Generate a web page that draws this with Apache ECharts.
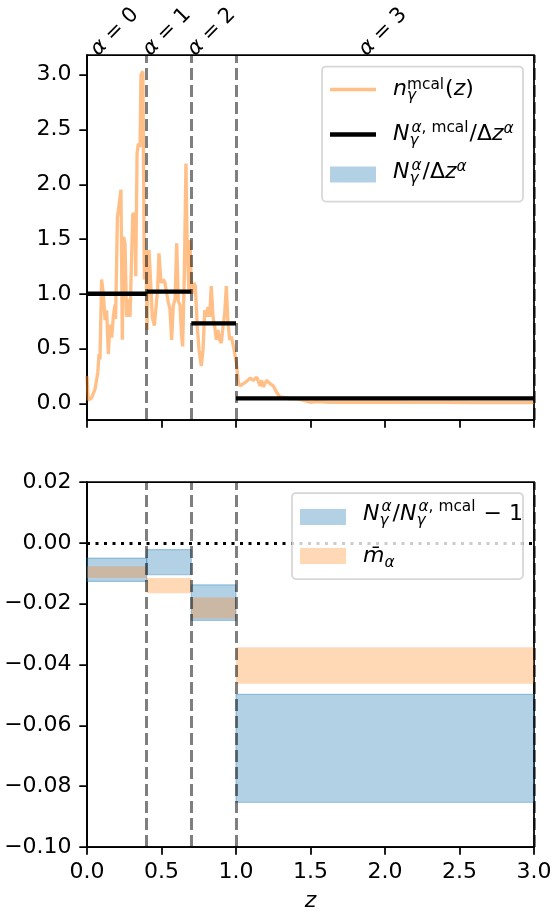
<!DOCTYPE html>
<html>
<head>
<meta charset="utf-8">
<script src="https://cdn.jsdelivr.net/npm/echarts@6/dist/echarts.min.js"></script>
<style>
html, body { margin: 0; padding: 0; background: #fff; }
#chart { width: 552px; height: 915px; }
</style>
</head>
<body>
<div id="chart"></div>
<script>
// n_gamma^mcal(z)
var zGrid = [0.000, 0.008, 0.031, 0.054, 0.072, 0.081, 0.087, 0.098, 0.110, 0.121,
    0.132, 0.143, 0.154, 0.166, 0.177, 0.188, 0.192, 0.204, 0.217, 0.228,
    0.237, 0.246, 0.255, 0.266, 0.277, 0.289, 0.307, 0.322, 0.327, 0.336,
    0.344, 0.356, 0.362, 0.375, 0.385, 0.396, 0.403, 0.416, 0.430, 0.438,
    0.452, 0.463, 0.474, 0.483, 0.497, 0.512, 0.523, 0.535, 0.546, 0.557,
    0.568, 0.579, 0.591, 0.602, 0.613, 0.624, 0.635, 0.642, 0.653, 0.664,
    0.673, 0.685, 0.691, 0.700, 0.705, 0.718, 0.727, 0.740, 0.752, 0.767,
    0.779, 0.790, 0.801, 0.812, 0.823, 0.834, 0.846, 0.857, 0.868, 0.879,
    0.890, 0.901, 0.913, 0.924, 0.935, 0.946, 0.958, 0.969, 0.987, 1.002,
    1.016, 1.027, 1.049, 1.072, 1.094, 1.117, 1.139, 1.161, 1.172, 1.183,
    1.206, 1.228, 1.250, 1.273, 1.295, 1.340, 1.362, 1.407, 1.452, 1.497,
    1.540, 1.630, 1.720, 1.850, 2.000, 2.200, 2.400, 2.600, 2.800, 3.000];
var nMcal = [0.25, 0.03, 0.05, 0.13, 0.28, 0.45, 0.40, 1.13, 1.00, 0.76,
    0.85, 0.45, 0.72, 0.60, 0.80, 0.90, 0.77, 1.70, 1.83, 1.95,
    0.58, 1.52, 1.46, 0.79, 0.95, 0.79, 1.73, 1.73, 1.16, 2.28,
    2.37, 2.34, 3.00, 3.03, 1.13, 1.40, 0.67, 1.40, 1.04, 0.79,
    0.71, 0.71, 1.04, 1.37, 1.10, 1.13, 1.10, 1.10, 0.92, 0.86,
    0.58, 0.89, 0.95, 1.46, 0.93, 0.90, 0.61, 0.52, 1.16, 2.19,
    1.40, 1.00, 1.49, 1.10, 1.00, 1.10, 1.07, 0.70, 0.49, 0.34,
    0.49, 0.85, 0.79, 0.88, 0.79, 1.07, 0.79, 0.70, 0.58, 0.67,
    0.58, 0.55, 0.70, 0.82, 1.07, 0.73, 0.58, 0.61, 0.49, 0.37,
    0.19, 0.16, 0.18, 0.20, 0.23, 0.21, 0.24, 0.16, 0.21, 0.15,
    0.21, 0.18, 0.16, 0.10, 0.06, 0.05, 0.04, 0.04, 0.03, 0.01,
    0.015, 0.01, 0.012, 0.01, 0.01, 0.008, 0.008, 0.007, 0.006, 0.006];

// tomographic bins
var binEdges = [0, 0.4, 0.7, 1.0, 3.0];
var binNames = ['0', '1', '2', '3'];
var nBinMcal = [1.00, 1.02, 0.73, 0.045];     // N^{a,mcal}/dz^a
var nBinLo = [0.986, 1.008, 0.714, 0.041];    // N^a/dz^a band
var nBinHi = [0.995, 1.018, 0.722, 0.044];

// lower panel bands
var ratioLo = [-0.0127, -0.0105, -0.0255, -0.0853];
var ratioHi = [-0.0050, -0.0022, -0.0138, -0.0498];
var mLo = [-0.0116, -0.0166, -0.0249, -0.0463];
var mHi = [-0.0077, -0.0116, -0.0180, -0.0343];

var xTicks = [0, 0.5, 1, 1.5, 2, 2.5, 3];
var topYTicks = [0, 0.5, 1, 1.5, 2, 2.5, 3];
var botYTicks = [0.02, 0, -0.02, -0.04, -0.06, -0.08, -0.1];

var FONT = '"DejaVu Sans"';
var LW = 1.75;
var BLUE_FILL = 'rgba(31,119,180,0.34)';
var ORANGE_FILL = 'rgba(255,127,14,0.3)';
var ORANGE_LINE = 'rgba(255,127,14,0.5)';
var DASH = { color: 'rgba(0,0,0,0.5)', width: 3, type: [12, 5] };

var chart = echarts.init(document.getElementById('chart'), null, { renderer: 'canvas' });

function bandData(lo, hi) {
    return lo.map(function (v, i) { return [binEdges[i], binEdges[i + 1], v, hi[i]]; });
}
function stepData() {
    var d = [];
    nBinMcal.forEach(function (v, i) {
        d.push([binEdges[i], v], [binEdges[i + 1], v], [binEdges[i + 1], '-']);
    });
    return d;
}
function renderBand(params, api) {
    var a = api.coord([api.value(0), api.value(3)]);
    var b = api.coord([api.value(1), api.value(2)]);
    var cs = params.coordSys;
    var shape = echarts.graphic.clipRectByRect(
        { x: a[0], y: a[1], width: b[0] - a[0], height: b[1] - a[1] },
        { x: cs.x, y: cs.y, width: cs.width, height: cs.height });
    return shape && { type: 'rect', shape: shape, style: api.style() };
}
function xAxisOpt(grid, labels) {
    return {
        type: 'value', gridIndex: grid, min: 0, max: 3,
        axisLine: { onZero: false, lineStyle: { color: '#000', width: LW } },
        axisTick: { show: true, length: 7.7, customValues: xTicks, lineStyle: { color: '#000', width: LW } },
        axisLabel: {
            show: labels, customValues: xTicks, margin: 14, color: '#000',
            fontSize: 22, fontFamily: FONT,
            formatter: function (v) { return v.toFixed(1); }
        },
        splitLine: { show: false },
        name: labels ? 'z' : '', nameLocation: 'middle', nameGap: 43,
        nameTextStyle: { fontSize: 22, fontStyle: 'italic', fontFamily: FONT, color: '#000' }
    };
}
function yAxisOpt(grid, min, max, ticks, fmt) {
    return {
        type: 'value', gridIndex: grid, min: min, max: max,
        axisLine: { show: true, onZero: false, lineStyle: { color: '#000', width: LW } },
        axisTick: { show: true, length: 7.7, customValues: ticks, lineStyle: { color: '#000', width: LW } },
        axisLabel: { customValues: ticks, margin: 15.4, color: '#000', fontSize: 22, fontFamily: FONT, formatter: fmt },
        splitLine: { show: false }
    };
}

var option = {
    animation: false,
    backgroundColor: '#fff',
    grid: [
        { left: 87, top: 55, width: 447, height: 365, show: true, borderColor: '#000', borderWidth: LW,
          containLabel: false, outerBoundsMode: 'none' },
        { left: 87, top: 482, width: 447, height: 365, show: true, borderColor: '#000', borderWidth: LW,
          containLabel: false, outerBoundsMode: 'none' }
    ],
    xAxis: [xAxisOpt(0, false), xAxisOpt(1, true)],
    yAxis: [
        yAxisOpt(0, -0.152, 3.18, topYTicks, function (v) { return v.toFixed(1); }),
        yAxisOpt(1, -0.1, 0.02, botYTicks, function (v) {
            return (v < -1e-9 ? '\u2212' : '') + Math.abs(v).toFixed(2);
        })
    ],
    series: [
        {
            name: 'nmcal', type: 'line', xAxisIndex: 0, yAxisIndex: 0, z: 2,
            showSymbol: false, symbol: 'none',
            lineStyle: { color: ORANGE_LINE, width: 3.3 },
            data: zGrid.map(function (z, i) { return [z, nMcal[i]]; })
        },
        {
            name: 'Nbin', type: 'custom', xAxisIndex: 0, yAxisIndex: 0, z: 3,
            renderItem: renderBand, encode: { x: [0, 1], y: [2, 3] },
            itemStyle: { color: BLUE_FILL },
            data: bandData(nBinLo, nBinHi)
        },
        {
            name: 'dashTop', type: 'line', xAxisIndex: 0, yAxisIndex: 0, z: 4, data: [],
            markLine: {
                silent: true, symbol: 'none', label: { show: false }, lineStyle: DASH,
                data: binEdges.slice(1).map(function (e) { return { xAxis: e }; })
            }
        },
        {
            name: 'Nmcal', type: 'line', xAxisIndex: 0, yAxisIndex: 0, z: 5,
            showSymbol: false, symbol: 'none', connectNulls: false,
            lineStyle: { color: '#000', width: 4.4 },
            data: stepData()
        },
        {
            name: 'ratio', type: 'custom', xAxisIndex: 1, yAxisIndex: 1, z: 2,
            renderItem: renderBand, encode: { x: [0, 1], y: [2, 3] },
            itemStyle: { color: BLUE_FILL, borderColor: BLUE_FILL, borderWidth: 1.2 },
            data: bandData(ratioLo, ratioHi)
        },
        {
            name: 'mbar', type: 'custom', xAxisIndex: 1, yAxisIndex: 1, z: 3,
            renderItem: renderBand, encode: { x: [0, 1], y: [2, 3] },
            itemStyle: { color: ORANGE_FILL },
            data: bandData(mLo, mHi)
        },
        {
            name: 'dashBot', type: 'line', xAxisIndex: 1, yAxisIndex: 1, z: 4, data: [],
            markLine: {
                silent: true, symbol: 'none', label: { show: false },
                data: binEdges.slice(1).map(function (e) { return { xAxis: e, lineStyle: DASH }; })
                    .concat([{ yAxis: 0, lineStyle: { color: '#000', width: 3, type: [3, 5.5] } }])
            }
        }
    ]
};
chart.setOption(option);

// ---- legends and bin labels (mathtext-like pieces) ----
var ctx = document.createElement('canvas').getContext('2d');
function fontOf(it, size) { return (it ? 'italic ' : '') + size + 'px ' + FONT; }
function widthOf(t, it, size) { ctx.font = fontOf(it, size); return ctx.measureText(t).width; }
function piece(t, it, size, x, base) {
    var st = {
        text: t, fill: '#000', font: fontOf(it, size),
        fontSize: size, fontStyle: it ? 'italic' : 'normal', fontFamily: FONT,
        align: 'left', textAlign: 'left', verticalAlign: 'middle', textVerticalAlign: 'middle'
    };
    return { type: 'text', x: x, y: base - 0.346 * size, silent: true, z: 100, style: st };
}
var BIG = 22, SMALL = 15.4;
// parts: [text, italic] at base size, or {sup:[...], sub:[...], up, down}
function mathRow(x, base, parts, out) {
    parts.forEach(function (p) {
        if (Array.isArray(p)) {
            out.push(piece(p[0], p[1], BIG, x, base));
            x += widthOf(p[0], p[1], BIG);
        } else {
            var w = 0;
            [['sup', -(p.up || 8)], ['sub', p.down || 5]].forEach(function (k) {
                var xx = x + (k[0] === 'sup' ? (p.shift || 0) : 0);
                (p[k[0]] || []).forEach(function (q) {
                    out.push(piece(q[0], q[1], SMALL, xx, base + k[1]));
                    xx += widthOf(q[0], q[1], SMALL);
                });
                w = Math.max(w, xx - x);
            });
            x += w + 1;
        }
    });
}
function legendBox(x, y, w, h) {
    return {
        type: 'rect', z: 90, silent: true,
        shape: { x: x, y: y, width: w, height: h, r: 4 },
        style: { fill: 'rgba(255,255,255,0.8)', stroke: 'rgba(204,204,204,0.8)', lineWidth: LW }
    };
}
function handleLine(x, y, color, width) {
    return { type: 'line', z: 95, silent: true, shape: { x1: x, y1: y, x2: x + 46, y2: y }, style: { stroke: color, lineWidth: width } };
}
function handleRect(x, y, color) {
    return { type: 'rect', z: 95, silent: true, shape: { x: x, y: y - 8, width: 46, height: 16 }, style: { fill: color } };
}

var g = [];
// upper legend
g.push(legendBox(322, 66.5, 201, 135));
g.push(handleLine(330, 89.5, ORANGE_LINE, 3.3));
g.push(handleLine(330, 134.5, '#000', 4.4));
g.push(handleRect(330, 174.5, BLUE_FILL));
var ALPHA = [['\u03b1', true]], GAMMA = [['\u03b3', true]];
mathRow(393, 96.5, [['n', true], { sup: [['mcal', false]], sub: GAMMA, up: 6, down: 5 }, ['(', false], ['z', true], [')', false]], g);
mathRow(393, 142, [['N', true], { sup: [['\u03b1', true], [', mcal', false]], sub: GAMMA, up: 9, down: 4.5, shift: 2 },
    ['/', false], ['\u0394', false], ['z', true], { sup: ALPHA, up: 8 }], g);
mathRow(393, 180, [['N', true], { sup: ALPHA, sub: GAMMA, up: 9, down: 4.5, shift: 2 },
    ['/', false], ['\u0394', false], ['z', true], { sup: ALPHA, up: 8 }], g);

// lower legend
g.push(legendBox(292, 493, 231, 86));
g.push(handleRect(300, 517, BLUE_FILL));
g.push(handleRect(300, 556, ORANGE_FILL));
mathRow(363, 521.5, [['N', true], { sup: ALPHA, sub: GAMMA, up: 9, down: 4.5, shift: 2 },
    ['/', false], ['N', true], { sup: [['\u03b1', true], [', mcal', false]], sub: GAMMA, up: 9, down: 4.5, shift: 2 },
    [' \u2212 1', false]], g);
mathRow(363, 564, [['m\u0304', true], { sub: ALPHA, down: 4.5 }], g);

// rotated bin labels above the upper panel
binNames.forEach(function (nm, i) {
    var c = chart.convertToPixel({ gridIndex: 0 }, [(binEdges[i] + binEdges[i + 1]) / 2, 0]);
    g.push({
        type: 'text', x: c[0] - 2, y: 32, rotation: Math.PI / 4, silent: true, z: 100,
        style: {
            text: '{i|\u03b1} = ' + nm, fill: '#000', fontSize: 21, fontFamily: FONT,
            font: '21px ' + FONT,
            align: 'center', textAlign: 'center', verticalAlign: 'middle', textVerticalAlign: 'middle',
            rich: { i: { fontStyle: 'italic', fontSize: 21, fontFamily: FONT, fill: '#000' } }
        }
    });
});
chart.setOption({ graphic: { elements: g } });
</script>
</body>
</html>
